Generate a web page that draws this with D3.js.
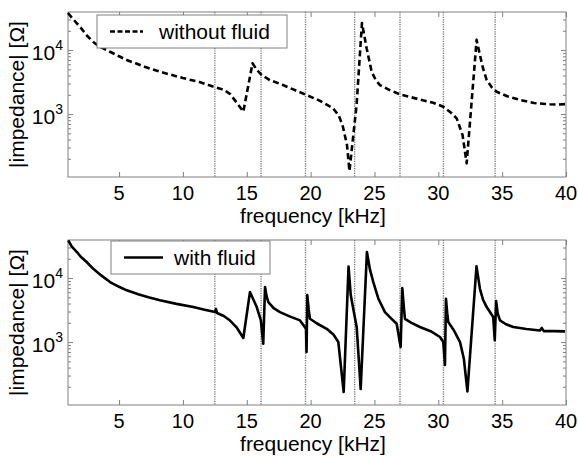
<!DOCTYPE html>
<html><head><meta charset="utf-8">
<script src="https://cdn.jsdelivr.net/npm/d3@7"></script>
<style>
html,body{margin:0;padding:0;background:#fff;}
svg{display:block;font-family:"Liberation Sans",Arial,sans-serif;}
</style></head>
<body>
<svg id="c" width="578" height="457"></svg>
<script>
// ---- data ----
const xTicks = [5,10,15,20,25,30,35,40];
const yMajor = [1000,10000];
const yMinor = [200,300,400,500,600,700,800,900,2000,3000,4000,5000,6000,7000,8000,9000,20000,30000];
const markerFreqs = [12.5,16.12,19.6,23.45,27.0,30.4,34.45];

const freqA = [1.0,1.25,1.47,1.7,1.94,2.2,2.49,2.8,3.11,3.6,4.29,5.0,5.6,6.3,7.0,8.2,9.0,10.0,11.3,12.5,13.2,13.7,14.3,14.73,15.45,15.8,16.17,16.8,17.84,18.8,19.69,20.7,21.75,22.2,22.5,22.85,23.04,23.6,24.02,24.2,24.39,24.78,25.1,25.43,26.2,27.0,28.7,29.6,30.39,31.0,31.44,31.9,32.22,33.0,33.26,33.5,33.79,34.2,34.57,35.4,36.4,37.5,38.74,39.3,40.0];
const impA  = [37900,33000,29400,26000,23100,19800,16700,14500,12700,11000,9420,8000,6980,6200,5480,4580,4150,3650,3160,2640,2400,2050,1430,1090,6200,4870,4070,3400,2840,2350,1980,1620,1240,950,673,328,129,1380,26400,17000,10600,4580,3400,2840,2370,2030,1660,1500,1300,1050,857,470,170,14400,8360,5200,3400,2600,2230,1900,1660,1490,1420,1410,1430];

const freqB = [1.02,1.3,1.7,2.0,2.46,3.0,3.6,4.29,5.0,5.6,6.5,7.3,8.2,9.5,10.81,11.7,12.51,12.59,12.67,13.2,13.69,14.2,14.73,15.25,15.78,16.1,16.29,16.43,16.55,16.69,17.1,17.6,18.4,19.17,19.64,19.68,19.74,19.85,19.95,20.5,21.26,21.8,22.17,22.59,22.97,23.14,23.34,23.61,23.92,24.41,24.65,24.91,25.3,25.82,26.3,26.74,27.05,27.18,27.3,27.39,27.9,28.56,29.4,30.13,30.39,30.52,30.6,30.7,30.78,31.2,31.7,32.0,32.28,32.99,33.26,33.5,33.79,34.3,34.42,34.53,34.65,34.83,35.3,35.87,36.9,37.96,38.1,38.26,39.0,39.92];
const impB  = [38800,31000,25500,21500,17800,13800,11000,8660,7300,6430,5600,5000,4490,3950,3530,3200,2940,3280,2840,2550,2170,1700,1160,6040,3520,2200,942,7240,5200,4220,3400,2940,2500,2180,1610,698,5430,3200,2310,1950,1610,1300,1000,166,15100,5480,3300,1700,185,25500,13500,8660,4800,2940,2350,1930,836,6980,3500,2310,2000,1720,1480,1200,1000,438,4750,2800,2050,1550,1000,550,169,15200,6800,4600,3520,2460,1070,4370,2800,2180,1900,1720,1600,1520,1660,1480,1480,1470];

const xDomain = [1,40];
const yDomain = [104,39300];
const legendA = "without fluid";
const legendB = "with fluid";
const xLabel = "frequency [kHz]";
const yLabel = "|impedance| [Ω]";

// ---- drawing ----
const svg = d3.select("#c");
const L = 68, R = 566;
const panels = [
  {top:12, bottom:177, f:freqA, v:impA, dash:"6,3.5", legend:legendA,
   lg:{x:97,y:15,w:190,h:33,lx1:110,lx2:143,tx:159}},
  {top:240, bottom:405, f:freqB, v:impB, dash:null, legend:legendB,
   lg:{x:111,y:241,w:159,h:33,lx1:124,lx2:163,tx:174}}
];
const axisColor = "#808080";

panels.forEach(p => {
  const x = d3.scaleLinear().domain(xDomain).range([L,R]);
  const y = d3.scaleLog().domain(yDomain).range([p.bottom,p.top]);
  const g = svg.append("g");

  g.append("rect").attr("x",L).attr("y",p.top).attr("width",R-L).attr("height",p.bottom-p.top)
    .attr("fill","#fff").attr("stroke",axisColor).attr("stroke-width",1);

  g.selectAll("line.mk").data(markerFreqs).enter().append("line")
    .attr("x1",d=>x(d)).attr("x2",d=>x(d)).attr("y1",p.top).attr("y2",p.bottom)
    .attr("stroke","#777").attr("stroke-width",1.4).attr("stroke-dasharray","1.2,1.2");

  function styleAxis(sel){
    sel.select(".domain").remove();
    sel.selectAll(".tick line").attr("stroke",axisColor);
    sel.selectAll(".tick text").remove();
  }
  g.append("g").attr("transform",`translate(0,${p.bottom})`)
    .call(d3.axisBottom(x).tickValues(xTicks).tickSize(-5)).call(styleAxis);
  g.append("g").attr("transform",`translate(0,${p.top})`)
    .call(d3.axisTop(x).tickValues(xTicks).tickSize(-5)).call(styleAxis);
  g.append("g").attr("transform",`translate(${L},0)`)
    .call(d3.axisLeft(y).tickValues(yMajor).tickSize(-5)).call(styleAxis);
  g.append("g").attr("transform",`translate(${L},0)`)
    .call(d3.axisLeft(y).tickValues(yMinor).tickSize(-3)).call(styleAxis);
  g.append("g").attr("transform",`translate(${R},0)`)
    .call(d3.axisRight(y).tickValues(yMajor).tickSize(-5)).call(styleAxis);
  g.append("g").attr("transform",`translate(${R},0)`)
    .call(d3.axisRight(y).tickValues(yMinor).tickSize(-3)).call(styleAxis);

  g.selectAll("text.xt").data(xTicks).enter().append("text")
    .attr("x",d=>x(d)).attr("y",p.bottom+23).attr("text-anchor","middle")
    .attr("font-size",20).attr("fill","#000").text(d=>d);

  yMajor.forEach(v=>{
    const t = g.append("text").attr("x",63).attr("y",y(v)+10).attr("text-anchor","end")
      .attr("font-size",21).attr("fill","#000");
    t.append("tspan").text("10");
    t.append("tspan").attr("font-size",14).attr("dy",-10).text(Math.round(Math.log10(v)));
  });

  g.append("text").attr("x",313).attr("y",p.bottom+46).attr("text-anchor","middle")
    .attr("font-size",21).attr("fill","#000").text(xLabel);
  g.append("text").attr("transform",`translate(24,${(p.top+p.bottom)/2}) rotate(-90)`)
    .attr("text-anchor","middle").attr("font-size",21).attr("fill","#000").text(yLabel);

  const pts = p.f.map((f,i)=>[f,p.v[i]]);
  const line = d3.line().x(d=>x(d[0])).y(d=>y(d[1]));
  const path = g.append("path").datum(pts).attr("d",line).attr("fill","none")
    .attr("stroke","#000").attr("stroke-width",2.6).attr("stroke-linejoin","round");
  if (p.dash) path.attr("stroke-dasharray",p.dash);

  const lg = p.lg;
  g.append("rect").attr("x",lg.x).attr("y",lg.y).attr("width",lg.w).attr("height",lg.h)
    .attr("fill","#fff").attr("stroke",axisColor).attr("stroke-width",1);
  const ll = g.append("line").attr("x1",lg.lx1).attr("x2",lg.lx2)
    .attr("y1",lg.y+lg.h/2).attr("y2",lg.y+lg.h/2).attr("stroke","#000").attr("stroke-width",2.6);
  if (p.dash) ll.attr("stroke-dasharray","5,2.5");
  g.append("text").attr("x",lg.tx).attr("y",lg.y+lg.h/2+7.5).attr("font-size",21)
    .attr("fill","#000").text(p.legend);
});
</script>
</body></html>
